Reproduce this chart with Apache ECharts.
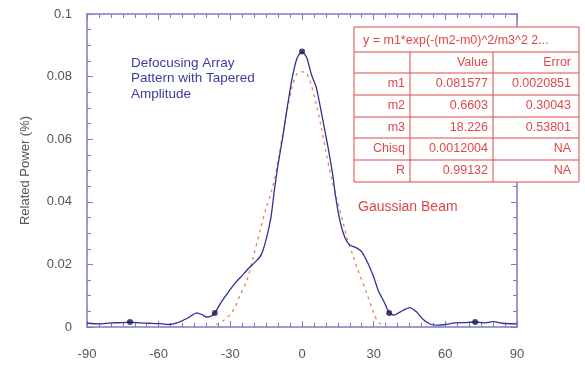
<!DOCTYPE html>
<html>
<head>
<meta charset="utf-8">
<script src="https://cdn.jsdelivr.net/npm/echarts@6/dist/echarts.min.js"></script>
<style>html,body{margin:0;padding:0;background:#fff}#c{width:585px;height:373px}</style>
</head>
<body>
<div id="c"></div>
<script>
// Measured "Defocusing Array Pattern with Tapered Amplitude" curve (angle, relative power)
var beamAngles = [-90,-85,-80,-75,-72,-68,-64,-60,-56,-52,-48,-44,-42,-40,-38,-36.5,-34,-31,-28,-25,-22,-19,-17,-15,-13,-11.5,-10,-8,-6,-4,-2,0,2,4,6,8.5,11,13,14,16,18,20,23,25,27.5,30,32,34.5,36.5,38.5,42,45,48,51,54,57,60,64,68,72.5,76,80,84,90];
var beamPower  = [0.0012,0.0010,0.0013,0.0014,0.0016,0.0013,0.0012,0.0011,0.0008,0.0014,0.0028,0.0045,0.0040,0.0032,0.0035,0.0045,0.0077,0.0110,0.0140,0.0165,0.0190,0.0212,0.0232,0.0280,0.0350,0.0440,0.0520,0.0610,0.0710,0.0800,0.0860,0.0880,0.0860,0.0805,0.0765,0.0670,0.0570,0.0480,0.0420,0.0335,0.0285,0.0262,0.0252,0.0240,0.0205,0.0160,0.0115,0.0078,0.0045,0.0038,0.0052,0.0062,0.0048,0.0022,0.0008,0.0006,0.0008,0.0013,0.0014,0.0016,0.0013,0.0017,0.0012,0.0010];
// Marked points on the measured curve
var markAngles = [-72,-36.5,0,36.5,72.5];
var markPower  = [0.0016,0.0045,0.0880,0.0045,0.0016];
// Gaussian beam (dashed)
var gaussAngles = [-36,-33,-30,-28,-26,-23,-20.5,-17.5,-15,-12.5,-10,-8,-6,-4,-2,0,2,4,6,8,10,12.5,14.5,17,19,21,23,25,27,30,32,35];
var gaussPower  = [0.0008,0.0020,0.0040,0.0064,0.0100,0.0150,0.0220,0.0310,0.0380,0.0440,0.0530,0.0620,0.0700,0.0770,0.0810,0.0815,0.0810,0.0770,0.0710,0.0640,0.0560,0.0470,0.0410,0.0340,0.0280,0.0236,0.0190,0.0150,0.0110,0.0045,0.0015,0.0005];
// Axis ticks
var xTicks = [-90,-60,-30,0,30,60,90];
var yTicks = [0,0.02,0.04,0.06,0.08,0.1];
// Fit table
var fitTitle = 'y = m1*exp(-(m2-m0)^2/m3^2 2...';
var tableHeader = ['', 'Value', 'Error'];
var tableParams = ['m1','m2','m3','Chisq','R'];
var tableValues = ['0.081577','0.6603','18.226','0.0012004','0.99132'];
var tableErrors = ['0.0020851','0.30043','0.53801','NA','NA'];
var annotBeam = ['Defocusing Array','Pattern with Tapered','Amplitude'];
var annotGauss = 'Gaussian Beam';

function zip(a,b){return a.map(function(v,i){return [v,b[i]];});}

var chart = echarts.init(document.getElementById('c'), null, {renderer:'canvas'});
var frame = '#7c7cc4';
var red = '#e04848';
var fontFam = '"Liberation Sans", Arial, sans-serif';
var tf = '12.5px ' + fontFam;

// Table graphics
var tx0 = 354, tx1 = 410, tx2 = 493, tx3 = 579;
var rowY = [27, 52, 73, 95, 117, 138, 160, 182];
var g = [];
g.push({type:'rect', shape:{x:tx0, y:rowY[0], width:tx3-tx0, height:rowY[7]-rowY[0]}, style:{fill:'#fff', stroke:red, lineWidth:1}, z:100});
for (var i=1;i<7;i++){
  g.push({type:'line', shape:{x1:tx0,y1:rowY[i],x2:tx3,y2:rowY[i]}, style:{stroke:red,lineWidth:1}, z:101});
}
[tx1,tx2].forEach(function(xx){
  g.push({type:'line', shape:{x1:xx,y1:rowY[1],x2:xx,y2:rowY[7]}, style:{stroke:red,lineWidth:1}, z:101});
});
g.push({type:'text', x:tx0+9, y:(rowY[0]+rowY[1])/2+1, style:{text:fitTitle, fill:red, font:tf, verticalAlign:'middle', align:'left'}, z:102});
var rowsLabels = [tableHeader[0]].concat(tableParams);
var rowsVals = [tableHeader[1]].concat(tableValues);
var rowsErrs = [tableHeader[2]].concat(tableErrors);
for (var r=0;r<6;r++){
  var cy = (rowY[r+1]+rowY[r+2])/2;
  g.push({type:'text', x:tx1-5, y:cy, style:{text:rowsLabels[r], fill:red, font:tf, align:'right', verticalAlign:'middle'}, z:102});
  g.push({type:'text', x:tx2-5, y:cy, style:{text:rowsVals[r], fill:red, font:tf, align:'right', verticalAlign:'middle'}, z:102});
  g.push({type:'text', x:tx3-8, y:cy, style:{text:rowsErrs[r], fill:red, font:tf, align:'right', verticalAlign:'middle'}, z:102});
}
annotBeam.forEach(function(t,i){
  g.push({type:'text', x:131, y:63+i*15.5, style:{text:t, fill:'#3c3ca0', font:'13.5px '+fontFam, verticalAlign:'middle'}, z:50});
});
g.push({type:'text', x:358, y:207, style:{text:annotGauss, fill:red, font:'14px '+fontFam, verticalAlign:'middle'}, z:50});

var axisCommon = {
  axisLine:{show:true, onZero:false, lineStyle:{color:frame, width:1.5}},
  splitLine:{show:false}
};

chart.setOption({
  animation:false,
  backgroundColor:'#fff',
  grid:{left:87, right:68, top:14, bottom:46, show:false},
  xAxis:[
    Object.assign({type:'value', min:-90, max:90, interval:30, position:'bottom',
      axisTick:{show:true, inside:true, length:6, lineStyle:{color:frame}},
      minorTick:{show:true, splitNumber:6, length:4, lineStyle:{color:frame}},
      axisLabel:{color:'#555', fontSize:13, fontFamily:fontFam, margin:21,
        formatter:function(v){return xTicks.indexOf(v)>=0 ? String(v) : '';}}
    }, axisCommon),
    Object.assign({type:'value', min:-90, max:90, interval:30, position:'top',
      axisTick:{show:true, inside:true, length:6, lineStyle:{color:frame}},
      minorTick:{show:true, splitNumber:6, length:4, lineStyle:{color:frame}},
      axisLabel:{show:false}
    }, axisCommon)
  ],
  yAxis:[
    Object.assign({type:'value', min:0, max:0.1, interval:0.02, position:'left',
      name:'Related Power (%)', nameLocation:'middle', nameGap:55,
      nameTextStyle:{color:'#555', fontSize:13, fontFamily:fontFam},
      axisTick:{show:true, inside:true, length:6, lineStyle:{color:frame}},
      minorTick:{show:true, splitNumber:4, length:4, lineStyle:{color:frame}},
      axisLabel:{color:'#555', fontSize:13, fontFamily:fontFam, margin:15,
        formatter:function(v){var s=+v.toFixed(4); return yTicks.some(function(t){return Math.abs(t-s)<1e-9;}) ? String(s) : '';}}
    }, axisCommon),
    Object.assign({type:'value', min:0, max:0.1, interval:0.02, position:'right',
      axisTick:{show:true, inside:true, length:6, lineStyle:{color:frame}},
      minorTick:{show:true, splitNumber:4, length:4, lineStyle:{color:frame}},
      axisLabel:{show:false}
    }, axisCommon)
  ],
  series:[
    {type:'line', data:zip(gaussAngles,gaussPower), showSymbol:false, smooth:0.3,
      lineStyle:{color:'#e8805a', width:1.3, type:[3,4]}, z:3},
    {type:'line', data:zip(beamAngles,beamPower), showSymbol:false, smooth:0.2,
      lineStyle:{color:'#303090', width:1.3}, z:4},
    {type:'scatter', data:zip(markAngles,markPower), symbol:'circle', symbolSize:6,
      itemStyle:{color:'#1a1a50'}, z:5}
  ],
  graphic:g
});
</script>
</body>
</html>
